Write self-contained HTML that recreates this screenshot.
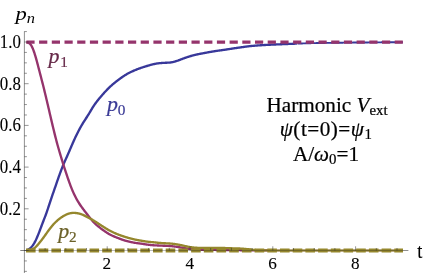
<!DOCTYPE html>
<html><head><meta charset="utf-8"><title>plot</title>
<style>
html,body{margin:0;padding:0;background:#fff;}
#w{position:relative;width:423px;height:273px;overflow:hidden;background:#fff;will-change:transform;filter:opacity(1);}
svg{display:block;position:absolute;left:0;top:0;}
.a{position:absolute;width:300px;height:40px;line-height:40px;text-align:center;white-space:nowrap;font-family:"Liberation Serif",serif;font-size:20px;color:#000;-webkit-text-stroke:0.22px #000;transform-origin:150px 26.75px;}
.a .s{font-size:14px;position:relative;top:3px;}
</style></head>
<body><div id="w"><svg width="423" height="273" viewBox="0 0 423 273">
<rect width="423" height="273" fill="#fff"/>
<path d="M26.40 250.09 L26.90 249.97 L27.40 249.80 L27.90 249.60 L28.40 249.36 L28.90 249.08 L29.40 248.76 L29.90 248.40 L30.40 247.99 L30.90 247.54 L31.40 247.04 L31.90 246.49 L32.40 245.88 L32.90 245.22 L33.40 244.49 L33.90 243.70 L34.40 242.85 L34.90 241.94 L35.40 240.97 L35.90 239.95 L36.40 238.87 L36.90 237.75 L37.40 236.58 L37.90 235.38 L38.40 234.15 L38.90 232.88 L39.40 231.60 L39.90 230.29 L40.40 228.96 L40.90 227.62 L41.40 226.28 L41.90 224.94 L42.40 223.60 L42.90 222.28 L43.40 220.97 L43.90 219.68 L44.40 218.40 L44.90 217.11 L45.40 215.81 L45.90 214.48 L46.40 213.11 L46.90 211.70 L47.40 210.24 L47.90 208.75 L48.40 207.22 L48.90 205.68 L49.40 204.13 L49.90 202.59 L50.40 201.06 L50.90 199.56 L51.40 198.07 L51.90 196.60 L52.40 195.15 L52.90 193.71 L53.40 192.28 L53.90 190.84 L54.40 189.41 L54.90 187.97 L55.40 186.52 L55.90 185.07 L56.40 183.62 L56.90 182.17 L57.40 180.73 L57.90 179.29 L58.40 177.87 L58.90 176.46 L59.40 175.07 L59.90 173.69 L60.40 172.32 L60.90 170.97 L61.40 169.64 L61.90 168.34 L62.40 167.06 L62.90 165.81 L63.40 164.60 L63.90 163.41 L64.40 162.25 L64.90 161.11 L65.40 159.99 L65.90 158.88 L66.40 157.76 L66.90 156.65 L67.40 155.52 L67.90 154.39 L68.40 153.25 L68.90 152.10 L69.40 150.94 L69.90 149.78 L70.40 148.61 L70.90 147.45 L71.40 146.28 L71.90 145.12 L72.40 143.97 L72.90 142.82 L73.40 141.69 L73.90 140.57 L74.40 139.46 L74.90 138.37 L75.40 137.29 L75.90 136.24 L76.40 135.20 L76.90 134.17 L77.40 133.17 L77.90 132.18 L78.40 131.21 L78.90 130.26 L79.40 129.33 L79.90 128.41 L80.40 127.51 L80.90 126.62 L81.40 125.75 L81.90 124.90 L82.40 124.06 L82.90 123.23 L83.40 122.42 L83.90 121.62 L84.40 120.83 L84.90 120.05 L85.40 119.28 L85.90 118.51 L86.40 117.74 L86.90 116.98 L87.40 116.20 L87.90 115.42 L88.40 114.62 L88.90 113.81 L89.40 112.99 L89.90 112.16 L90.40 111.31 L90.90 110.47 L91.40 109.63 L91.90 108.79 L92.40 107.97 L92.90 107.17 L93.40 106.38 L93.90 105.62 L94.40 104.88 L94.90 104.16 L95.40 103.46 L95.90 102.78 L96.40 102.12 L96.90 101.47 L97.40 100.83 L97.90 100.20 L98.40 99.58 L98.90 98.96 L99.40 98.36 L99.90 97.75 L100.40 97.16 L100.90 96.57 L101.40 95.98 L101.90 95.40 L102.40 94.82 L102.90 94.25 L103.40 93.69 L103.90 93.13 L104.40 92.58 L104.90 92.04 L105.40 91.50 L105.90 90.97 L106.40 90.44 L106.90 89.92 L107.40 89.41 L107.90 88.90 L108.40 88.40 L108.90 87.91 L109.40 87.42 L109.90 86.94 L110.40 86.47 L110.90 86.00 L111.40 85.55 L111.90 85.10 L112.40 84.66 L112.90 84.23 L113.40 83.81 L113.90 83.39 L114.40 82.99 L114.90 82.58 L115.40 82.19 L115.90 81.80 L116.40 81.41 L116.90 81.03 L117.40 80.65 L117.90 80.28 L118.40 79.90 L118.90 79.53 L119.40 79.15 L119.90 78.78 L120.40 78.41 L120.90 78.04 L121.40 77.68 L121.90 77.32 L122.40 76.97 L122.90 76.62 L123.40 76.28 L123.90 75.94 L124.40 75.62 L124.90 75.30 L125.40 74.99 L125.90 74.69 L126.40 74.39 L126.90 74.10 L127.40 73.82 L127.90 73.55 L128.40 73.28 L128.90 73.02 L129.40 72.76 L129.90 72.51 L130.40 72.27 L130.90 72.02 L131.40 71.78 L131.90 71.55 L132.40 71.32 L132.90 71.09 L133.40 70.87 L133.90 70.65 L134.40 70.43 L134.90 70.22 L135.40 70.01 L135.90 69.80 L136.40 69.60 L136.90 69.40 L137.40 69.20 L137.90 69.01 L138.40 68.82 L138.90 68.63 L139.40 68.45 L139.90 68.27 L140.40 68.09 L140.90 67.92 L141.40 67.74 L141.90 67.57 L142.40 67.41 L142.90 67.24 L143.40 67.08 L143.90 66.92 L144.40 66.76 L144.90 66.60 L145.40 66.45 L145.90 66.29 L146.40 66.14 L146.90 66.00 L147.40 65.85 L147.90 65.70 L148.40 65.56 L148.90 65.41 L149.40 65.27 L149.90 65.13 L150.40 64.99 L150.90 64.85 L151.40 64.72 L151.90 64.58 L152.40 64.45 L152.90 64.33 L153.40 64.21 L153.90 64.09 L154.40 63.98 L154.90 63.88 L155.40 63.78 L155.90 63.69 L156.40 63.60 L156.90 63.52 L157.40 63.44 L157.90 63.37 L158.40 63.31 L158.90 63.25 L159.40 63.20 L159.90 63.15 L160.40 63.10 L160.90 63.06 L161.40 63.02 L161.90 62.98 L162.40 62.95 L162.90 62.92 L163.40 62.89 L163.90 62.86 L164.40 62.84 L164.90 62.82 L165.40 62.79 L165.90 62.77 L166.40 62.75 L166.90 62.73 L167.40 62.70 L167.90 62.68 L168.40 62.65 L168.90 62.61 L169.40 62.57 L169.90 62.53 L170.40 62.47 L170.90 62.40 L171.40 62.33 L171.90 62.24 L172.40 62.15 L172.90 62.04 L173.40 61.93 L173.90 61.81 L174.40 61.68 L174.90 61.54 L175.40 61.39 L175.90 61.24 L176.40 61.08 L176.90 60.91 L177.40 60.74 L177.90 60.56 L178.40 60.39 L178.90 60.20 L179.40 60.02 L179.90 59.83 L180.40 59.64 L180.90 59.45 L181.40 59.26 L181.90 59.08 L182.40 58.89 L182.90 58.70 L183.40 58.51 L183.90 58.33 L184.40 58.14 L184.90 57.96 L185.40 57.78 L185.90 57.61 L186.40 57.43 L186.90 57.26 L187.40 57.09 L187.90 56.93 L188.40 56.77 L188.90 56.61 L189.40 56.45 L189.90 56.30 L190.40 56.15 L190.90 56.00 L191.40 55.86 L191.90 55.72 L192.40 55.58 L192.90 55.44 L193.40 55.31 L193.90 55.18 L194.40 55.06 L194.90 54.94 L195.40 54.82 L195.90 54.70 L196.40 54.59 L196.90 54.48 L197.40 54.37 L197.90 54.26 L198.40 54.16 L198.90 54.06 L199.40 53.96 L199.90 53.87 L200.40 53.77 L200.90 53.68 L201.40 53.59 L201.90 53.50 L202.40 53.40 L202.90 53.31 L203.40 53.21 L203.90 53.12 L204.40 53.02 L204.90 52.93 L205.40 52.83 L205.90 52.73 L206.40 52.64 L206.90 52.54 L207.40 52.44 L207.90 52.35 L208.40 52.25 L208.90 52.16 L209.40 52.07 L209.90 51.98 L210.40 51.89 L210.90 51.81 L211.40 51.72 L211.90 51.64 L212.40 51.56 L212.90 51.48 L213.40 51.40 L213.90 51.32 L214.40 51.24 L214.90 51.16 L215.40 51.08 L215.90 51.01 L216.40 50.93 L216.90 50.86 L217.40 50.79 L217.90 50.71 L218.40 50.64 L218.90 50.57 L219.40 50.50 L219.90 50.43 L220.40 50.36 L220.90 50.29 L221.40 50.22 L221.90 50.15 L222.40 50.08 L222.90 50.01 L223.40 49.94 L223.90 49.87 L224.40 49.79 L224.90 49.72 L225.40 49.65 L225.90 49.57 L226.40 49.50 L226.90 49.42 L227.40 49.35 L227.90 49.27 L228.40 49.19 L228.90 49.12 L229.40 49.04 L229.90 48.96 L230.40 48.88 L230.90 48.80 L231.40 48.73 L231.90 48.65 L232.40 48.57 L232.90 48.50 L233.40 48.42 L233.90 48.34 L234.40 48.27 L234.90 48.20 L235.40 48.12 L235.90 48.05 L236.40 47.97 L236.90 47.90 L237.40 47.83 L237.90 47.76 L238.40 47.69 L238.90 47.61 L239.40 47.54 L239.90 47.47 L240.40 47.40 L240.90 47.33 L241.40 47.26 L241.90 47.19 L242.40 47.12 L242.90 47.05 L243.40 46.98 L243.90 46.91 L244.40 46.84 L244.90 46.77 L245.40 46.70 L245.90 46.63 L246.40 46.56 L246.90 46.50 L247.40 46.43 L247.90 46.37 L248.40 46.30 L248.90 46.24 L249.40 46.19 L249.90 46.13 L250.40 46.08 L250.90 46.03 L251.40 45.98 L251.90 45.93 L252.40 45.89 L252.90 45.84 L253.40 45.80 L253.90 45.76 L254.40 45.71 L254.90 45.67 L255.40 45.63 L255.90 45.60 L256.40 45.56 L256.90 45.52 L257.40 45.48 L257.90 45.45 L258.40 45.41 L258.90 45.38 L259.40 45.35 L259.90 45.31 L260.40 45.28 L260.90 45.25 L261.40 45.22 L261.90 45.19 L262.40 45.16 L262.90 45.13 L263.40 45.10 L263.90 45.07 L264.40 45.04 L264.90 45.01 L265.40 44.98 L265.90 44.95 L266.40 44.93 L266.90 44.90 L267.40 44.87 L267.90 44.85 L268.40 44.82 L268.90 44.80 L269.40 44.77 L269.90 44.75 L270.40 44.72 L270.90 44.70 L271.40 44.68 L271.90 44.65 L272.40 44.63 L272.90 44.61 L273.40 44.59 L273.90 44.56 L274.40 44.54 L274.90 44.52 L275.40 44.50 L275.90 44.48 L276.40 44.45 L276.90 44.43 L277.40 44.41 L277.90 44.39 L278.40 44.37 L278.90 44.35 L279.40 44.33 L279.90 44.30 L280.40 44.28 L280.90 44.26 L281.40 44.24 L281.90 44.22 L282.40 44.20 L282.90 44.18 L283.40 44.16 L283.90 44.14 L284.40 44.11 L284.90 44.09 L285.40 44.07 L285.90 44.05 L286.40 44.03 L286.90 44.01 L287.40 43.99 L287.90 43.97 L288.40 43.95 L288.90 43.93 L289.40 43.91 L289.90 43.89 L290.40 43.87 L290.90 43.85 L291.40 43.84 L291.90 43.82 L292.40 43.80 L292.90 43.78 L293.40 43.76 L293.90 43.74 L294.40 43.72 L294.90 43.70 L295.40 43.69 L295.90 43.67 L296.40 43.65 L296.90 43.63" fill="none" stroke="#38389A" stroke-width="2.35" stroke-linejoin="round"/>
<path d="M297.40 43.61 L297.90 43.59 L298.40 43.57 L298.90 43.56 L299.40 43.54 L299.90 43.52 L300.40 43.50 L300.90 43.48 L301.40 43.47 L301.90 43.45 L302.40 43.43 L302.90 43.41 L303.40 43.40 L303.90 43.38 L304.40 43.36 L304.90 43.35 L305.40 43.33 L305.90 43.32 L306.40 43.30 L306.90 43.29 L307.40 43.27 L307.90 43.26 L308.40 43.24 L308.90 43.23 L309.40 43.22 L309.90 43.21 L310.40 43.19 L310.90 43.18 L311.40 43.17 L311.90 43.16 L312.40 43.15 L312.90 43.14 L313.40 43.13 L313.90 43.12 L314.40 43.11 L314.90 43.10 L315.40 43.09 L315.90 43.08 L316.40 43.07 L316.90 43.06 L317.40 43.05 L317.90 43.04 L318.40 43.03 L318.90 43.02 L319.40 43.01 L319.90 43.01 L320.40 43.00 L320.90 42.99 L321.40 42.98 L321.90 42.97 L322.40 42.96 L322.90 42.96 L323.40 42.95 L323.90 42.94 L324.40 42.93 L324.90 42.93 L325.40 42.92 L325.90 42.91 L326.40 42.90 L326.90 42.90 L327.40 42.89 L327.90 42.88 L328.40 42.87 L328.90 42.87 L329.40 42.86 L329.90 42.85 L330.40 42.84 L330.90 42.84 L331.40 42.83 L331.90 42.82 L332.40 42.82 L332.90 42.81 L333.40 42.80 L333.90 42.79 L334.40 42.79 L334.90 42.78 L335.40 42.77 L335.90 42.77 L336.40 42.76 L336.90 42.75 L337.40 42.75 L337.90 42.74 L338.40 42.73 L338.90 42.73 L339.40 42.72 L339.90 42.71 L340.40 42.71 L340.90 42.70 L341.40 42.70 L341.90 42.69 L342.40 42.68 L342.90 42.68 L343.40 42.67 L343.90 42.67 L344.40 42.66 L344.90 42.65 L345.40 42.65 L345.90 42.64 L346.40 42.64 L346.90 42.63 L347.40 42.63 L347.90 42.62 L348.40 42.62 L348.90 42.61 L349.40 42.61 L349.90 42.60 L350.40 42.60 L350.90 42.59 L351.40 42.59 L351.90 42.58 L352.40 42.58 L352.90 42.57 L353.40 42.57 L353.90 42.56 L354.40 42.56 L354.90 42.55 L355.40 42.55 L355.90 42.54 L356.40 42.54 L356.90 42.53 L357.40 42.53 L357.90 42.52 L358.40 42.52 L358.90 42.51 L359.40 42.51 L359.90 42.51 L360.40 42.50 L360.90 42.50 L361.40 42.49 L361.90 42.49 L362.40 42.48 L362.90 42.48 L363.40 42.47 L363.90 42.47 L364.40 42.46 L364.90 42.46 L365.40 42.46 L365.90 42.45 L366.40 42.45 L366.90 42.44 L367.40 42.44 L367.90 42.43 L368.40 42.43 L368.90 42.42 L369.40 42.42 L369.90 42.42 L370.40 42.41 L370.90 42.41 L371.40 42.40 L371.90 42.40 L372.40 42.40 L372.90 42.39 L373.40 42.39 L373.90 42.38 L374.40 42.38 L374.90 42.37 L375.40 42.37 L375.90 42.37 L376.40 42.36 L376.90 42.36 L377.40 42.36 L377.90 42.35 L378.40 42.35 L378.90 42.34 L379.40 42.34 L379.90 42.34 L380.40 42.33 L380.90 42.33 L381.40 42.32 L381.90 42.32 L382.40 42.32 L382.90 42.31 L383.40 42.31 L383.90 42.31 L384.40 42.30 L384.90 42.30 L385.40 42.30 L385.90 42.29 L386.40 42.29 L386.90 42.29 L387.40 42.28 L387.90 42.28 L388.40 42.28 L388.90 42.27 L389.40 42.27 L389.90 42.27 L390.40 42.26 L390.90 42.26 L391.40 42.26 L391.90 42.26 L392.40 42.25 L392.90 42.25 L393.40 42.25 L393.90 42.24 L394.40 42.24 L394.90 42.24 L395.40 42.24 L395.90 42.23 L396.40 42.23 L396.90 42.23 L397.40 42.23 L397.90 42.22 L398.40 42.22 L398.90 42.22 L399.40 42.22 L399.90 42.21 L400.40 42.21 L400.90 42.21 L401.40 42.21 L401.90 42.21 L402.40 42.21 L402.90 42.20" fill="none" stroke="#38389A" stroke-width="1.9" stroke-linejoin="round"/>
<path d="M26.40 42.22 L26.90 42.29 L27.40 42.39 L27.90 42.53 L28.40 42.72 L28.90 42.97 L29.40 43.31 L29.90 43.74 L30.40 44.28 L30.90 44.93 L31.40 45.72 L31.90 46.63 L32.40 47.67 L32.90 48.83 L33.40 50.10 L33.90 51.48 L34.40 52.95 L34.90 54.52 L35.40 56.16 L35.90 57.88 L36.40 59.67 L36.90 61.51 L37.40 63.39 L37.90 65.30 L38.40 67.22 L38.90 69.15 L39.40 71.07 L39.90 72.99 L40.40 74.91 L40.90 76.82 L41.40 78.74 L41.90 80.67 L42.40 82.61 L42.90 84.58 L43.40 86.56 L43.90 88.57 L44.40 90.60 L44.90 92.66 L45.40 94.73 L45.90 96.81 L46.40 98.91 L46.90 101.03 L47.40 103.16 L47.90 105.30 L48.40 107.45 L48.90 109.60 L49.40 111.76 L49.90 113.92 L50.40 116.08 L50.90 118.24 L51.40 120.38 L51.90 122.51 L52.40 124.62 L52.90 126.71 L53.40 128.77 L53.90 130.82 L54.40 132.85 L54.90 134.86 L55.40 136.84 L55.90 138.79 L56.40 140.72 L56.90 142.61 L57.40 144.45 L57.90 146.26 L58.40 148.03 L58.90 149.76 L59.40 151.46 L59.90 153.15 L60.40 154.82 L60.90 156.49 L61.40 158.15 L61.90 159.81 L62.40 161.45 L62.90 163.08 L63.40 164.69 L63.90 166.28 L64.40 167.84 L64.90 169.38 L65.40 170.90 L65.90 172.40 L66.40 173.89 L66.90 175.37 L67.40 176.84 L67.90 178.30 L68.40 179.74 L68.90 181.17 L69.40 182.58 L69.90 183.96 L70.40 185.31 L70.90 186.63 L71.40 187.91 L71.90 189.15 L72.40 190.35 L72.90 191.51 L73.40 192.63 L73.90 193.72 L74.40 194.78 L74.90 195.81 L75.40 196.80 L75.90 197.77 L76.40 198.71 L76.90 199.62 L77.40 200.50 L77.90 201.36 L78.40 202.19 L78.90 202.99 L79.40 203.76 L79.90 204.52 L80.40 205.25 L80.90 205.97 L81.40 206.67 L81.90 207.37 L82.40 208.05 L82.90 208.72 L83.40 209.38 L83.90 210.04 L84.40 210.70 L84.90 211.35 L85.40 212.00 L85.90 212.64 L86.40 213.29 L86.90 213.93 L87.40 214.57 L87.90 215.21 L88.40 215.85 L88.90 216.49 L89.40 217.13 L89.90 217.76 L90.40 218.39 L90.90 219.01 L91.40 219.62 L91.90 220.22 L92.40 220.80 L92.90 221.36 L93.40 221.91 L93.90 222.44 L94.40 222.95 L94.90 223.44 L95.40 223.92 L95.90 224.38 L96.40 224.83 L96.90 225.26 L97.40 225.68 L97.90 226.10 L98.40 226.51 L98.90 226.91 L99.40 227.30 L99.90 227.69 L100.40 228.07 L100.90 228.46 L101.40 228.83 L101.90 229.21 L102.40 229.58 L102.90 229.94 L103.40 230.31 L103.90 230.67 L104.40 231.02 L104.90 231.37 L105.40 231.72 L105.90 232.06 L106.40 232.39 L106.90 232.71 L107.40 233.03 L107.90 233.34 L108.40 233.64 L108.90 233.93 L109.40 234.21 L109.90 234.48 L110.40 234.74 L110.90 235.00 L111.40 235.25 L111.90 235.49 L112.40 235.72 L112.90 235.95 L113.40 236.17 L113.90 236.39 L114.40 236.60 L114.90 236.81 L115.40 237.02 L115.90 237.22 L116.40 237.42 L116.90 237.62 L117.40 237.82 L117.90 238.02 L118.40 238.21 L118.90 238.40 L119.40 238.59 L119.90 238.78 L120.40 238.97 L120.90 239.16 L121.40 239.34 L121.90 239.52 L122.40 239.70 L122.90 239.87 L123.40 240.04 L123.90 240.21 L124.40 240.37 L124.90 240.52 L125.40 240.67 L125.90 240.82 L126.40 240.96 L126.90 241.10 L127.40 241.23 L127.90 241.36 L128.40 241.48 L128.90 241.61 L129.40 241.72 L129.90 241.84 L130.40 241.95 L130.90 242.06 L131.40 242.16 L131.90 242.26 L132.40 242.36 L132.90 242.46 L133.40 242.55 L133.90 242.64 L134.40 242.72 L134.90 242.81 L135.40 242.89 L135.90 242.96 L136.40 243.04 L136.90 243.11 L137.40 243.18 L137.90 243.25 L138.40 243.31 L138.90 243.38 L139.40 243.45 L139.90 243.51 L140.40 243.58 L140.90 243.64 L141.40 243.71 L141.90 243.78 L142.40 243.85 L142.90 243.92 L143.40 244.00 L143.90 244.08 L144.40 244.15 L144.90 244.23 L145.40 244.32 L145.90 244.40 L146.40 244.48 L146.90 244.55 L147.40 244.63 L147.90 244.70 L148.40 244.77 L148.90 244.83 L149.40 244.90 L149.90 244.95 L150.40 245.00 L150.90 245.05 L151.40 245.09 L151.90 245.13 L152.40 245.17 L152.90 245.21 L153.40 245.24 L153.90 245.28 L154.40 245.31 L154.90 245.34 L155.40 245.37 L155.90 245.39 L156.40 245.42 L156.90 245.45 L157.40 245.47 L157.90 245.50 L158.40 245.52 L158.90 245.54 L159.40 245.57 L159.90 245.59 L160.40 245.61 L160.90 245.63 L161.40 245.65 L161.90 245.67 L162.40 245.69 L162.90 245.71 L163.40 245.73 L163.90 245.75 L164.40 245.77 L164.90 245.78 L165.40 245.80 L165.90 245.82 L166.40 245.84 L166.90 245.86 L167.40 245.89 L167.90 245.91 L168.40 245.94 L168.90 245.96 L169.40 246.00 L169.90 246.03 L170.40 246.07 L170.90 246.11 L171.40 246.15 L171.90 246.20 L172.40 246.25 L172.90 246.31 L173.40 246.37 L173.90 246.43 L174.40 246.50 L174.90 246.57 L175.40 246.64 L175.90 246.71 L176.40 246.78 L176.90 246.86 L177.40 246.93 L177.90 247.01 L178.40 247.09 L178.90 247.17 L179.40 247.25 L179.90 247.33 L180.40 247.41 L180.90 247.49 L181.40 247.58 L181.90 247.67 L182.40 247.75 L182.90 247.84 L183.40 247.93 L183.90 248.02 L184.40 248.11 L184.90 248.19 L185.40 248.28 L185.90 248.36 L186.40 248.44 L186.90 248.52 L187.40 248.59 L187.90 248.66 L188.40 248.73 L188.90 248.80 L189.40 248.86 L189.90 248.92 L190.40 248.98 L190.90 249.04 L191.40 249.09 L191.90 249.15 L192.40 249.20 L192.90 249.24 L193.40 249.29 L193.90 249.33 L194.40 249.37 L194.90 249.41 L195.40 249.44 L195.90 249.47 L196.40 249.50 L196.90 249.53 L197.40 249.55 L197.90 249.58 L198.40 249.60 L198.90 249.62 L199.40 249.64 L199.90 249.66 L200.40 249.67 L200.90 249.69 L201.40 249.71 L201.90 249.72 L202.40 249.73 L202.90 249.75 L203.40 249.76 L203.90 249.77 L204.40 249.78 L204.90 249.79 L205.40 249.80 L205.90 249.81 L206.40 249.82 L206.90 249.83 L207.40 249.84 L207.90 249.85 L208.40 249.86 L208.90 249.87 L209.40 249.87 L209.90 249.88 L210.40 249.89 L210.90 249.89 L211.40 249.90 L211.90 249.91 L212.40 249.91 L212.90 249.92 L213.40 249.93 L213.90 249.93 L214.40 249.94 L214.90 249.94 L215.40 249.95 L215.90 249.95 L216.40 249.96 L216.90 249.97 L217.40 249.97 L217.90 249.98 L218.40 249.98 L218.90 249.99 L219.40 249.99 L219.90 250.00 L220.40 250.00 L220.90 250.01 L221.40 250.02 L221.90 250.02 L222.40 250.03 L222.90 250.03 L223.40 250.04 L223.90 250.04 L224.40 250.05 L224.90 250.05 L225.40 250.06 L225.90 250.06 L226.40 250.07 L226.90 250.07 L227.40 250.08 L227.90 250.08 L228.40 250.09 L228.90 250.09 L229.40 250.10 L229.90 250.10 L230.40 250.11 L230.90 250.11 L231.40 250.12 L231.90 250.12 L232.40 250.13 L232.90 250.13 L233.40 250.14 L233.90 250.14 L234.40 250.15 L234.90 250.15 L235.40 250.16 L235.90 250.16 L236.40 250.16 L236.90 250.17 L237.40 250.17 L237.90 250.18 L238.40 250.18 L238.90 250.19 L239.40 250.19 L239.90 250.20 L240.40 250.20 L240.90 250.21 L241.40 250.22 L241.90 250.22 L242.40 250.23 L242.90 250.23 L243.40 250.24 L243.90 250.24 L244.40 250.25 L244.90 250.25 L245.40 250.26 L245.90 250.27 L246.40 250.27 L246.90 250.28 L247.40 250.28 L247.90 250.29 L248.40 250.30 L248.90 250.30 L249.40 250.31 L249.90 250.31 L250.40 250.32 L250.90 250.32 L251.40 250.33 L251.90 250.33 L252.40 250.34 L252.90 250.34 L253.40 250.35 L253.90 250.35 L254.40 250.36 L254.90 250.36 L255.40 250.37 L255.90 250.37 L256.40 250.38 L256.90 250.38 L257.40 250.38 L257.90 250.39 L258.40 250.39 L258.90 250.39 L259.40 250.40 L259.90 250.40 L260.40 250.40 L260.90 250.40 L261.40 250.41 L261.90 250.41 L262.40 250.41 L262.90 250.41 L263.40 250.41 L263.90 250.42 L264.40 250.42 L264.90 250.42 L265.40 250.42 L265.90 250.42 L266.40 250.43 L266.90 250.43 L267.40 250.43 L267.90 250.43 L268.40 250.43 L268.90 250.44 L269.40 250.44 L269.90 250.44 L270.40 250.44 L270.90 250.44 L271.40 250.44 L271.90 250.45" fill="none" stroke="#95346C" stroke-width="2.35" stroke-linejoin="round"/>
<path d="M272.40 250.45 L272.90 250.45 L273.40 250.45 L273.90 250.45 L274.40 250.45 L274.90 250.46 L275.40 250.46 L275.90 250.46 L276.40 250.46 L276.90 250.46 L277.40 250.46 L277.90 250.47 L278.40 250.47 L278.90 250.47 L279.40 250.47 L279.90 250.47 L280.40 250.47 L280.90 250.47 L281.40 250.47 L281.90 250.48 L282.40 250.48 L282.90 250.48 L283.40 250.48 L283.90 250.48 L284.40 250.48 L284.90 250.48 L285.40 250.48 L285.90 250.49 L286.40 250.49 L286.90 250.49 L287.40 250.49 L287.90 250.49 L288.40 250.49 L288.90 250.49 L289.40 250.49 L289.90 250.49 L290.40 250.49 L290.90 250.49 L291.40 250.49 L291.90 250.49 L292.40 250.50 L292.90 250.50 L293.40 250.50 L293.90 250.50 L294.40 250.50 L294.90 250.50 L295.40 250.50 L295.90 250.50 L296.40 250.50 L296.90 250.50 L297.40 250.50 L297.90 250.50 L298.40 250.50 L298.90 250.50 L299.40 250.50 L299.90 250.50 L300.40 250.50 L300.90 250.50 L301.40 250.50 L301.90 250.50 L302.40 250.50 L302.90 250.50 L303.40 250.50 L303.90 250.50 L304.40 250.50 L304.90 250.50 L305.40 250.50 L305.90 250.50 L306.40 250.50 L306.90 250.50 L307.40 250.50 L307.90 250.50 L308.40 250.50 L308.90 250.50 L309.40 250.50 L309.90 250.50 L310.40 250.50 L310.90 250.50 L311.40 250.50 L311.90 250.50 L312.40 250.50 L312.90 250.50 L313.40 250.50 L313.90 250.50 L314.40 250.50 L314.90 250.50 L315.40 250.50 L315.90 250.50 L316.40 250.50 L316.90 250.50 L317.40 250.50 L317.90 250.50 L318.40 250.50 L318.90 250.50 L319.40 250.50 L319.90 250.50 L320.40 250.50 L320.90 250.50 L321.40 250.50 L321.90 250.50 L322.40 250.50 L322.90 250.50 L323.40 250.50 L323.90 250.50 L324.40 250.50 L324.90 250.50 L325.40 250.50 L325.90 250.50 L326.40 250.50 L326.90 250.50 L327.40 250.50 L327.90 250.50 L328.40 250.50 L328.90 250.50 L329.40 250.50 L329.90 250.50 L330.40 250.50 L330.90 250.50 L331.40 250.50 L331.90 250.50 L332.40 250.50 L332.90 250.50 L333.40 250.50 L333.90 250.50 L334.40 250.50 L334.90 250.50 L335.40 250.50 L335.90 250.50 L336.40 250.50 L336.90 250.50 L337.40 250.50 L337.90 250.50 L338.40 250.50 L338.90 250.50 L339.40 250.50 L339.90 250.50 L340.40 250.50 L340.90 250.50 L341.40 250.50 L341.90 250.50 L342.40 250.50 L342.90 250.50 L343.40 250.50 L343.90 250.50 L344.40 250.50 L344.90 250.50 L345.40 250.50 L345.90 250.50 L346.40 250.50 L346.90 250.50 L347.40 250.50 L347.90 250.50 L348.40 250.50 L348.90 250.50 L349.40 250.50 L349.90 250.50 L350.40 250.50 L350.90 250.50 L351.40 250.50 L351.90 250.50 L352.40 250.50 L352.90 250.50 L353.40 250.50 L353.90 250.50 L354.40 250.50 L354.90 250.50 L355.40 250.50 L355.90 250.50 L356.40 250.50 L356.90 250.50 L357.40 250.50 L357.90 250.50 L358.40 250.50 L358.90 250.50 L359.40 250.50 L359.90 250.50 L360.40 250.50 L360.90 250.50 L361.40 250.50 L361.90 250.50 L362.40 250.50 L362.90 250.50 L363.40 250.50 L363.90 250.50 L364.40 250.50 L364.90 250.50 L365.40 250.50 L365.90 250.50 L366.40 250.50 L366.90 250.50 L367.40 250.50 L367.90 250.50 L368.40 250.50 L368.90 250.50 L369.40 250.50 L369.90 250.50 L370.40 250.50 L370.90 250.50 L371.40 250.50 L371.90 250.50 L372.40 250.50 L372.90 250.50 L373.40 250.50 L373.90 250.50 L374.40 250.50 L374.90 250.50 L375.40 250.50 L375.90 250.50 L376.40 250.50 L376.90 250.50 L377.40 250.50 L377.90 250.50 L378.40 250.50 L378.90 250.50 L379.40 250.50 L379.90 250.50 L380.40 250.50 L380.90 250.50 L381.40 250.50 L381.90 250.50 L382.40 250.50 L382.90 250.50 L383.40 250.50 L383.90 250.50 L384.40 250.50 L384.90 250.50 L385.40 250.50 L385.90 250.50 L386.40 250.50 L386.90 250.50 L387.40 250.50 L387.90 250.50 L388.40 250.50 L388.90 250.50 L389.40 250.50 L389.90 250.50 L390.40 250.50 L390.90 250.50 L391.40 250.50 L391.90 250.50 L392.40 250.50 L392.90 250.50 L393.40 250.50 L393.90 250.50 L394.40 250.50 L394.90 250.50 L395.40 250.50 L395.90 250.50 L396.40 250.50 L396.90 250.50 L397.40 250.50 L397.90 250.50 L398.40 250.50 L398.90 250.50 L399.40 250.50 L399.90 250.50 L400.40 250.50 L400.90 250.50 L401.40 250.50 L401.90 250.50 L402.40 250.50 L402.90 250.50" fill="none" stroke="#95346C" stroke-width="1.5" stroke-linejoin="round"/>
<path d="M27.00 250.30 L27.50 250.26 L28.00 250.21 L28.50 250.15 L29.00 250.08 L29.50 250.00 L30.00 249.91 L30.50 249.80 L31.00 249.67 L31.50 249.52 L32.00 249.35 L32.50 249.15 L33.00 248.92 L33.50 248.66 L34.00 248.35 L34.50 248.00 L35.00 247.61 L35.50 247.18 L36.00 246.71 L36.50 246.20 L37.00 245.67 L37.50 245.11 L38.00 244.53 L38.50 243.94 L39.00 243.34 L39.50 242.73 L40.00 242.11 L40.50 241.49 L41.00 240.85 L41.50 240.21 L42.00 239.56 L42.50 238.90 L43.00 238.23 L43.50 237.54 L44.00 236.85 L44.50 236.16 L45.00 235.45 L45.50 234.75 L46.00 234.04 L46.50 233.33 L47.00 232.63 L47.50 231.93 L48.00 231.24 L48.50 230.56 L49.00 229.88 L49.50 229.21 L50.00 228.56 L50.50 227.91 L51.00 227.28 L51.50 226.66 L52.00 226.06 L52.50 225.47 L53.00 224.89 L53.50 224.33 L54.00 223.78 L54.50 223.25 L55.00 222.73 L55.50 222.23 L56.00 221.75 L56.50 221.28 L57.00 220.82 L57.50 220.38 L58.00 219.95 L58.50 219.53 L59.00 219.13 L59.50 218.74 L60.00 218.36 L60.50 217.99 L61.00 217.64 L61.50 217.29 L62.00 216.96 L62.50 216.64 L63.00 216.32 L63.50 216.02 L64.00 215.73 L64.50 215.45 L65.00 215.18 L65.50 214.93 L66.00 214.68 L66.50 214.45 L67.00 214.24 L67.50 214.04 L68.00 213.86 L68.50 213.69 L69.00 213.54 L69.50 213.41 L70.00 213.30 L70.50 213.20 L71.00 213.11 L71.50 213.04 L72.00 212.99 L72.50 212.95 L73.00 212.92 L73.50 212.91 L74.00 212.91 L74.50 212.92 L75.00 212.95 L75.50 212.98 L76.00 213.02 L76.50 213.08 L77.00 213.14 L77.50 213.22 L78.00 213.31 L78.50 213.41 L79.00 213.52 L79.50 213.65 L80.00 213.79 L80.50 213.94 L81.00 214.11 L81.50 214.29 L82.00 214.48 L82.50 214.68 L83.00 214.89 L83.50 215.12 L84.00 215.35 L84.50 215.59 L85.00 215.84 L85.50 216.09 L86.00 216.35 L86.50 216.61 L87.00 216.88 L87.50 217.14 L88.00 217.41 L88.50 217.68 L89.00 217.95 L89.50 218.23 L90.00 218.50 L90.50 218.77 L91.00 219.05 L91.50 219.32 L92.00 219.61 L92.50 219.89 L93.00 220.18 L93.50 220.47 L94.00 220.77 L94.50 221.08 L95.00 221.39 L95.50 221.70 L96.00 222.02 L96.50 222.34 L97.00 222.67 L97.50 223.00 L98.00 223.33 L98.50 223.66 L99.00 223.99 L99.50 224.32 L100.00 224.65 L100.50 224.97 L101.00 225.30 L101.50 225.62 L102.00 225.95 L102.50 226.27 L103.00 226.59 L103.50 226.90 L104.00 227.22 L104.50 227.54 L105.00 227.85 L105.50 228.16 L106.00 228.47 L106.50 228.77 L107.00 229.07 L107.50 229.37 L108.00 229.66 L108.50 229.94 L109.00 230.22 L109.50 230.49 L110.00 230.76 L110.50 231.02 L111.00 231.28 L111.50 231.53 L112.00 231.78 L112.50 232.02 L113.00 232.26 L113.50 232.50 L114.00 232.73 L114.50 232.96 L115.00 233.18 L115.50 233.40 L116.00 233.61 L116.50 233.82 L117.00 234.03 L117.50 234.23 L118.00 234.43 L118.50 234.62 L119.00 234.81 L119.50 235.00 L120.00 235.19 L120.50 235.37 L121.00 235.54 L121.50 235.72 L122.00 235.89 L122.50 236.06 L123.00 236.22 L123.50 236.39 L124.00 236.55 L124.50 236.70 L125.00 236.86 L125.50 237.01 L126.00 237.17 L126.50 237.32 L127.00 237.46 L127.50 237.61 L128.00 237.76 L128.50 237.90 L129.00 238.04 L129.50 238.18 L130.00 238.32 L130.50 238.45 L131.00 238.58 L131.50 238.71 L132.00 238.84 L132.50 238.96 L133.00 239.09 L133.50 239.20 L134.00 239.32 L134.50 239.43 L135.00 239.54 L135.50 239.65 L136.00 239.75 L136.50 239.85 L137.00 239.95 L137.50 240.05 L138.00 240.15 L138.50 240.24 L139.00 240.33 L139.50 240.42 L140.00 240.51 L140.50 240.60 L141.00 240.68 L141.50 240.76 L142.00 240.85 L142.50 240.93 L143.00 241.01 L143.50 241.09 L144.00 241.17 L144.50 241.25 L145.00 241.32 L145.50 241.40 L146.00 241.47 L146.50 241.54 L147.00 241.61 L147.50 241.68 L148.00 241.74 L148.50 241.80 L149.00 241.86 L149.50 241.92 L150.00 241.97 L150.50 242.02 L151.00 242.07 L151.50 242.11 L152.00 242.16 L152.50 242.20 L153.00 242.25 L153.50 242.29 L154.00 242.33 L154.50 242.38 L155.00 242.43 L155.50 242.48 L156.00 242.54 L156.50 242.59 L157.00 242.65 L157.50 242.71 L158.00 242.76 L158.50 242.82 L159.00 242.87 L159.50 242.92 L160.00 242.96 L160.50 243.00 L161.00 243.04 L161.50 243.07 L162.00 243.11 L162.50 243.13 L163.00 243.16 L163.50 243.19 L164.00 243.21 L164.50 243.23 L165.00 243.26 L165.50 243.28 L166.00 243.30 L166.50 243.33 L167.00 243.35 L167.50 243.37 L168.00 243.40 L168.50 243.43 L169.00 243.46 L169.50 243.50 L170.00 243.53 L170.50 243.57 L171.00 243.61 L171.50 243.66 L172.00 243.70 L172.50 243.75 L173.00 243.81 L173.50 243.87 L174.00 243.93 L174.50 243.99 L175.00 244.06 L175.50 244.14 L176.00 244.21 L176.50 244.29 L177.00 244.38 L177.50 244.47 L178.00 244.56 L178.50 244.66 L179.00 244.76 L179.50 244.86 L180.00 244.96 L180.50 245.06 L181.00 245.16 L181.50 245.27 L182.00 245.37 L182.50 245.48 L183.00 245.59 L183.50 245.70 L184.00 245.81 L184.50 245.92 L185.00 246.03 L185.50 246.14 L186.00 246.25 L186.50 246.36 L187.00 246.47 L187.50 246.58 L188.00 246.68 L188.50 246.78 L189.00 246.88 L189.50 246.97 L190.00 247.05 L190.50 247.13 L191.00 247.20 L191.50 247.27 L192.00 247.34 L192.50 247.39 L193.00 247.45 L193.50 247.50 L194.00 247.55 L194.50 247.60 L195.00 247.64 L195.50 247.68 L196.00 247.72 L196.50 247.75 L197.00 247.78 L197.50 247.81 L198.00 247.83 L198.50 247.84 L199.00 247.86 L199.50 247.87 L200.00 247.87 L200.50 247.88 L201.00 247.88 L201.50 247.88 L202.00 247.87 L202.50 247.87 L203.00 247.86 L203.50 247.85 L204.00 247.85 L204.50 247.84 L205.00 247.83 L205.50 247.83 L206.00 247.82 L206.50 247.82 L207.00 247.81 L207.50 247.81 L208.00 247.81 L208.50 247.81 L209.00 247.81 L209.50 247.81 L210.00 247.81 L210.50 247.81 L211.00 247.81 L211.50 247.81 L212.00 247.82 L212.50 247.82 L213.00 247.82 L213.50 247.83 L214.00 247.83 L214.50 247.84 L215.00 247.84 L215.50 247.85 L216.00 247.85 L216.50 247.86 L217.00 247.86 L217.50 247.87 L218.00 247.88 L218.50 247.88 L219.00 247.89 L219.50 247.90 L220.00 247.91 L220.50 247.92 L221.00 247.93 L221.50 247.94 L222.00 247.95 L222.50 247.96 L223.00 247.98 L223.50 247.99 L224.00 248.01 L224.50 248.03 L225.00 248.04 L225.50 248.06 L226.00 248.08 L226.50 248.10 L227.00 248.12 L227.50 248.14 L228.00 248.16 L228.50 248.18 L229.00 248.19 L229.50 248.21 L230.00 248.23 L230.50 248.25 L231.00 248.26 L231.50 248.28 L232.00 248.29 L232.50 248.31 L233.00 248.32 L233.50 248.33 L234.00 248.35 L234.50 248.36 L235.00 248.37 L235.50 248.38 L236.00 248.39 L236.50 248.40 L237.00 248.42 L237.50 248.43 L238.00 248.45 L238.50 248.46 L239.00 248.48 L239.50 248.50 L240.00 248.52 L240.50 248.55 L241.00 248.58 L241.50 248.61 L242.00 248.64 L242.50 248.68 L243.00 248.72 L243.50 248.76 L244.00 248.81 L244.50 248.85 L245.00 248.90 L245.50 248.95 L246.00 249.00 L246.50 249.05 L247.00 249.10 L247.50 249.16 L248.00 249.21 L248.50 249.27 L249.00 249.33 L249.50 249.38 L250.00 249.44 L250.50 249.50 L251.00 249.56 L251.50 249.63 L252.00 249.68 L252.50 249.74 L253.00 249.80 L253.50 249.85 L254.00 249.90 L254.50 249.95 L255.00 249.99 L255.50 250.03 L256.00 250.07 L256.50 250.10 L257.00 250.13 L257.50 250.16 L258.00 250.19 L258.50 250.21 L259.00 250.23 L259.50 250.25 L260.00 250.27 L260.50 250.29 L261.00 250.31 L261.50 250.32 L262.00 250.34 L262.50 250.35 L263.00 250.36 L263.50 250.37 L264.00 250.38 L264.50 250.39 L265.00 250.39 L265.50 250.40 L266.00 250.40 L266.50 250.41 L267.00 250.41 L267.50 250.41 L268.00 250.42 L268.50 250.42 L269.00 250.42 L269.50 250.43 L270.00 250.43 L270.50 250.43 L271.00 250.43 L271.50 250.44 L272.00 250.44" fill="none" stroke="#95872D" stroke-width="2.35" stroke-linejoin="round"/>
<path d="M272.00 250.44 L272.50 250.44 L273.00 250.44 L273.50 250.45 L274.00 250.45 L274.50 250.45 L275.00 250.45 L275.50 250.45 L276.00 250.46 L276.50 250.46 L277.00 250.46 L277.50 250.46 L278.00 250.46 L278.50 250.46 L279.00 250.47 L279.50 250.47 L280.00 250.47 L280.50 250.47 L281.00 250.47 L281.50 250.47 L282.00 250.48 L282.50 250.48 L283.00 250.48 L283.50 250.48 L284.00 250.48 L284.50 250.48 L285.00 250.48 L285.50 250.48 L286.00 250.49 L286.50 250.49 L287.00 250.49 L287.50 250.49 L288.00 250.49 L288.50 250.49 L289.00 250.49 L289.50 250.49 L290.00 250.49 L290.50 250.49 L291.00 250.49 L291.50 250.49 L292.00 250.50 L292.50 250.50 L293.00 250.50 L293.50 250.50 L294.00 250.50 L294.50 250.50 L295.00 250.50 L295.50 250.50 L296.00 250.50 L296.50 250.50 L297.00 250.50 L297.50 250.50 L298.00 250.50 L298.50 250.50 L299.00 250.50 L299.50 250.50 L300.00 250.50 L300.50 250.50 L301.00 250.50 L301.50 250.50 L302.00 250.50 L302.50 250.50 L303.00 250.50 L303.50 250.50 L304.00 250.50 L304.50 250.50 L305.00 250.50 L305.50 250.50 L306.00 250.50 L306.50 250.50 L307.00 250.50 L307.50 250.50 L308.00 250.50 L308.50 250.50 L309.00 250.50 L309.50 250.50 L310.00 250.50 L310.50 250.50 L311.00 250.50 L311.50 250.50 L312.00 250.50 L312.50 250.50 L313.00 250.50 L313.50 250.50 L314.00 250.50 L314.50 250.50 L315.00 250.50 L315.50 250.50 L316.00 250.50 L316.50 250.50 L317.00 250.50 L317.50 250.50 L318.00 250.50 L318.50 250.50 L319.00 250.50 L319.50 250.50 L320.00 250.50 L320.50 250.50 L321.00 250.50 L321.50 250.50 L322.00 250.50 L322.50 250.50 L323.00 250.50 L323.50 250.50 L324.00 250.50 L324.50 250.50 L325.00 250.50 L325.50 250.50 L326.00 250.50 L326.50 250.50 L327.00 250.50 L327.50 250.50 L328.00 250.50 L328.50 250.50 L329.00 250.50 L329.50 250.50 L330.00 250.50 L330.50 250.50 L331.00 250.50 L331.50 250.50 L332.00 250.50 L332.50 250.50 L333.00 250.50 L333.50 250.50 L334.00 250.50 L334.50 250.50 L335.00 250.50 L335.50 250.50 L336.00 250.50 L336.50 250.50 L337.00 250.50 L337.50 250.50 L338.00 250.50 L338.50 250.50 L339.00 250.50 L339.50 250.50 L340.00 250.50 L340.50 250.50 L341.00 250.50 L341.50 250.50 L342.00 250.50 L342.50 250.50 L343.00 250.50 L343.50 250.50 L344.00 250.50 L344.50 250.50 L345.00 250.50 L345.50 250.50 L346.00 250.50 L346.50 250.50 L347.00 250.50 L347.50 250.50 L348.00 250.50 L348.50 250.50 L349.00 250.50 L349.50 250.50 L350.00 250.50 L350.50 250.50 L351.00 250.50 L351.50 250.50 L352.00 250.50 L352.50 250.50 L353.00 250.50 L353.50 250.50 L354.00 250.50 L354.50 250.50 L355.00 250.50 L355.50 250.50 L356.00 250.50 L356.50 250.50 L357.00 250.50 L357.50 250.50 L358.00 250.50 L358.50 250.50 L359.00 250.50 L359.50 250.50 L360.00 250.50 L360.50 250.50 L361.00 250.50 L361.50 250.50 L362.00 250.50 L362.50 250.50 L363.00 250.50 L363.50 250.50 L364.00 250.50 L364.50 250.50 L365.00 250.50 L365.50 250.50 L366.00 250.50 L366.50 250.50 L367.00 250.50 L367.50 250.50 L368.00 250.50 L368.50 250.50 L369.00 250.50 L369.50 250.50 L370.00 250.50 L370.50 250.50 L371.00 250.50 L371.50 250.50 L372.00 250.50 L372.50 250.50 L373.00 250.50 L373.50 250.50 L374.00 250.50 L374.50 250.50 L375.00 250.50 L375.50 250.50 L376.00 250.50 L376.50 250.50 L377.00 250.50 L377.50 250.50 L378.00 250.50 L378.50 250.50 L379.00 250.50 L379.50 250.50 L380.00 250.50 L380.50 250.50 L381.00 250.50 L381.50 250.50 L382.00 250.50 L382.50 250.50 L383.00 250.50 L383.50 250.50 L384.00 250.50 L384.50 250.50 L385.00 250.50 L385.50 250.50 L386.00 250.50 L386.50 250.50 L387.00 250.50 L387.50 250.50 L388.00 250.50 L388.50 250.50 L389.00 250.50 L389.50 250.50 L390.00 250.50 L390.50 250.50 L391.00 250.50 L391.50 250.50 L392.00 250.50 L392.50 250.50 L393.00 250.50 L393.50 250.50 L394.00 250.50 L394.50 250.50 L395.00 250.50 L395.50 250.50 L396.00 250.50 L396.50 250.50 L397.00 250.50 L397.50 250.50 L398.00 250.50 L398.50 250.50 L399.00 250.50 L399.50 250.50 L400.00 250.50 L400.50 250.50 L401.00 250.50 L401.50 250.50 L402.00 250.50 L402.50 250.50 L403.00 250.50" fill="none" stroke="#95872D" stroke-width="1.9" stroke-linejoin="round"/>
<line x1="26.4" y1="42.1" x2="402.8" y2="42.1" stroke="#95346C" stroke-width="3.3" stroke-dasharray="8.2 4.5"/>
<line x1="26.0" y1="250.5" x2="403.0" y2="250.5" stroke="#95872D" stroke-width="4.0" stroke-dasharray="9.6 3.1"/>
<line x1="20.3" y1="250.5" x2="26.2" y2="250.5" stroke="#2a2a2a" stroke-width="0.6"/>
<line x1="26.2" y1="250.5" x2="403" y2="250.5" stroke="#222" stroke-width="0.6" stroke-opacity="0.5"/>
<line x1="403" y1="250.5" x2="408.4" y2="250.5" stroke="#333" stroke-width="0.55"/>
<line x1="24.4" y1="31.4" x2="24.4" y2="273" stroke="#2a2a2a" stroke-width="0.52"/>
<line x1="24.4" y1="271.35" x2="26.90" y2="271.35" stroke="#2a2a2a" stroke-width="0.5"/>
<line x1="24.4" y1="260.93" x2="26.90" y2="260.93" stroke="#2a2a2a" stroke-width="0.5"/>
<line x1="24.4" y1="250.50" x2="28.60" y2="250.50" stroke="#2a2a2a" stroke-width="0.5"/>
<line x1="24.4" y1="240.07" x2="26.90" y2="240.07" stroke="#2a2a2a" stroke-width="0.5"/>
<line x1="24.4" y1="229.65" x2="26.90" y2="229.65" stroke="#2a2a2a" stroke-width="0.5"/>
<line x1="24.4" y1="219.22" x2="26.90" y2="219.22" stroke="#2a2a2a" stroke-width="0.5"/>
<line x1="24.4" y1="208.80" x2="28.60" y2="208.80" stroke="#2a2a2a" stroke-width="0.5"/>
<line x1="24.4" y1="198.38" x2="26.90" y2="198.38" stroke="#2a2a2a" stroke-width="0.5"/>
<line x1="24.4" y1="187.95" x2="26.90" y2="187.95" stroke="#2a2a2a" stroke-width="0.5"/>
<line x1="24.4" y1="177.52" x2="26.90" y2="177.52" stroke="#2a2a2a" stroke-width="0.5"/>
<line x1="24.4" y1="167.10" x2="28.60" y2="167.10" stroke="#2a2a2a" stroke-width="0.5"/>
<line x1="24.4" y1="156.68" x2="26.90" y2="156.68" stroke="#2a2a2a" stroke-width="0.5"/>
<line x1="24.4" y1="146.25" x2="26.90" y2="146.25" stroke="#2a2a2a" stroke-width="0.5"/>
<line x1="24.4" y1="135.82" x2="26.90" y2="135.82" stroke="#2a2a2a" stroke-width="0.5"/>
<line x1="24.4" y1="125.40" x2="28.60" y2="125.40" stroke="#2a2a2a" stroke-width="0.5"/>
<line x1="24.4" y1="114.97" x2="26.90" y2="114.97" stroke="#2a2a2a" stroke-width="0.5"/>
<line x1="24.4" y1="104.55" x2="26.90" y2="104.55" stroke="#2a2a2a" stroke-width="0.5"/>
<line x1="24.4" y1="94.12" x2="26.90" y2="94.12" stroke="#2a2a2a" stroke-width="0.5"/>
<line x1="24.4" y1="83.70" x2="28.60" y2="83.70" stroke="#2a2a2a" stroke-width="0.5"/>
<line x1="24.4" y1="73.27" x2="26.90" y2="73.27" stroke="#2a2a2a" stroke-width="0.5"/>
<line x1="24.4" y1="62.85" x2="26.90" y2="62.85" stroke="#2a2a2a" stroke-width="0.5"/>
<line x1="24.4" y1="52.42" x2="26.90" y2="52.42" stroke="#2a2a2a" stroke-width="0.5"/>
<line x1="24.4" y1="42.00" x2="28.60" y2="42.00" stroke="#2a2a2a" stroke-width="0.5"/>
<line x1="24.4" y1="31.57" x2="26.90" y2="31.57" stroke="#2a2a2a" stroke-width="0.5"/>
<line x1="45.10" y1="250.5" x2="45.10" y2="248.00" stroke="#2a2a2a" stroke-width="0.5"/>
<line x1="65.80" y1="250.5" x2="65.80" y2="248.00" stroke="#2a2a2a" stroke-width="0.5"/>
<line x1="86.50" y1="250.5" x2="86.50" y2="248.00" stroke="#2a2a2a" stroke-width="0.5"/>
<line x1="107.20" y1="250.5" x2="107.20" y2="246.30" stroke="#2a2a2a" stroke-width="0.5"/>
<line x1="127.90" y1="250.5" x2="127.90" y2="248.00" stroke="#2a2a2a" stroke-width="0.5"/>
<line x1="148.60" y1="250.5" x2="148.60" y2="248.00" stroke="#2a2a2a" stroke-width="0.5"/>
<line x1="169.30" y1="250.5" x2="169.30" y2="248.00" stroke="#2a2a2a" stroke-width="0.5"/>
<line x1="190.00" y1="250.5" x2="190.00" y2="246.30" stroke="#2a2a2a" stroke-width="0.5"/>
<line x1="210.70" y1="250.5" x2="210.70" y2="248.00" stroke="#2a2a2a" stroke-width="0.5"/>
<line x1="231.40" y1="250.5" x2="231.40" y2="248.00" stroke="#2a2a2a" stroke-width="0.5"/>
<line x1="252.10" y1="250.5" x2="252.10" y2="248.00" stroke="#2a2a2a" stroke-width="0.5"/>
<line x1="272.80" y1="250.5" x2="272.80" y2="246.30" stroke="#2a2a2a" stroke-width="0.5"/>
<line x1="293.50" y1="250.5" x2="293.50" y2="248.00" stroke="#2a2a2a" stroke-width="0.5"/>
<line x1="314.20" y1="250.5" x2="314.20" y2="248.00" stroke="#2a2a2a" stroke-width="0.5"/>
<line x1="334.90" y1="250.5" x2="334.90" y2="248.00" stroke="#2a2a2a" stroke-width="0.5"/>
<line x1="355.60" y1="250.5" x2="355.60" y2="246.30" stroke="#2a2a2a" stroke-width="0.5"/>
<line x1="376.30" y1="250.5" x2="376.30" y2="248.00" stroke="#2a2a2a" stroke-width="0.5"/>
<line x1="397.00" y1="250.5" x2="397.00" y2="248.00" stroke="#2a2a2a" stroke-width="0.5"/>
<text transform="translate(20.9 47.90) scale(1.0 1.12)" font-family="Liberation Serif, serif" font-size="16.9" text-anchor="end" fill="#000" stroke="#000" stroke-width="0.1">1.0</text>
<text transform="translate(20.9 89.60) scale(1.0 1.12)" font-family="Liberation Serif, serif" font-size="16.9" text-anchor="end" fill="#000" stroke="#000" stroke-width="0.1">0.8</text>
<text transform="translate(20.9 131.30) scale(1.0 1.12)" font-family="Liberation Serif, serif" font-size="16.9" text-anchor="end" fill="#000" stroke="#000" stroke-width="0.1">0.6</text>
<text transform="translate(20.9 173.00) scale(1.0 1.12)" font-family="Liberation Serif, serif" font-size="16.9" text-anchor="end" fill="#000" stroke="#000" stroke-width="0.1">0.4</text>
<text transform="translate(20.9 214.70) scale(1.0 1.12)" font-family="Liberation Serif, serif" font-size="16.9" text-anchor="end" fill="#000" stroke="#000" stroke-width="0.1">0.2</text>
<text transform="translate(106.90 269.2) scale(1.0 1.03)" font-family="Liberation Serif, serif" font-size="17.2" text-anchor="middle" fill="#000" stroke="#000" stroke-width="0.1">2</text>
<text transform="translate(189.70 269.2) scale(1.0 1.03)" font-family="Liberation Serif, serif" font-size="17.2" text-anchor="middle" fill="#000" stroke="#000" stroke-width="0.1">4</text>
<text transform="translate(272.50 269.2) scale(1.0 1.03)" font-family="Liberation Serif, serif" font-size="17.2" text-anchor="middle" fill="#000" stroke="#000" stroke-width="0.1">6</text>
<text transform="translate(355.30 269.2) scale(1.0 1.03)" font-family="Liberation Serif, serif" font-size="17.2" text-anchor="middle" fill="#000" stroke="#000" stroke-width="0.1">8</text>
<text transform="translate(15.6 19.7) scale(1.1 0.97)" font-family="Liberation Serif, serif" font-size="20.5" font-style="italic" fill="#000">p<tspan font-size="15" dx="-0.2" dy="3">n</tspan></text>
<text transform="translate(417.2 258) scale(0.9 1)" font-family="Liberation Serif, serif" font-size="20.5" fill="#000" stroke="#000" stroke-width="0.1">t</text>
<text transform="translate(48.6 62.6) scale(1.07 1)" font-family="Liberation Serif, serif" font-size="20.5" fill="#662949" stroke="#662949" stroke-width="0.2"><tspan font-style="italic">p</tspan><tspan font-size="14.3" dx="0.6" dy="4">1</tspan></text>
<text transform="translate(106.9 110.8) scale(1.07 1)" font-family="Liberation Serif, serif" font-size="20.5" fill="#3A3A96" stroke="#3A3A96" stroke-width="0.2"><tspan font-style="italic">p</tspan><tspan font-size="14.3" dx="0.0" dy="4">0</tspan></text>
<text transform="translate(58.3 237.9) scale(1.07 1)" font-family="Liberation Serif, serif" font-size="20.5" fill="#6B6129" stroke="#6B6129" stroke-width="0.2"><tspan font-style="italic">p</tspan><tspan font-size="14.3" dx="-0.2" dy="4">2</tspan></text>
</svg>
<div class="a" style="left:176.50px;top:84.95px;transform:scale(1.06,1.02);">Harmonic <i>V</i><span class="s">ext</span></div>
<div class="a" style="left:175.50px;top:109.25px;transform:scale(1.06,1.02);"><span style="letter-spacing:0.45px"><i>ψ</i>(t=0)=<i>ψ</i><span class="s">1</span></span></div>
<div class="a" style="left:175.60px;top:134.45px;transform:scale(1.06,1.02);">A/<i>ω</i><span class="s">0</span>=1</div>
</div></body></html>
